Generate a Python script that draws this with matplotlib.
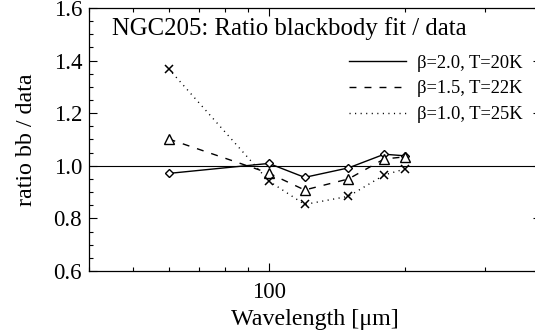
import matplotlib
matplotlib.use("Agg")
import matplotlib.pyplot as plt
from matplotlib.ticker import NullFormatter, FixedLocator, MultipleLocator, FormatStrFormatter

plt.rcParams['font.family'] = ['Liberation Serif', 'DejaVu Serif']
plt.rcParams['lines.scale_dashes'] = False

wavelength = [60, 100, 120, 150, 180, 200]
ratio_b20 = [0.971, 1.009, 0.956, 0.992, 1.044, 1.038]
ratio_b15 = [1.102, 0.972, 0.908, 0.950, 1.026, 1.034]
ratio_b10 = [1.369, 0.942, 0.853, 0.884, 0.965, 0.988]
labels = ['β=2.0, T=20K', 'β=1.5, T=22K', 'β=1.0, T=25K']
title = 'NGC205: Ratio blackbody fit / data'

fig = plt.figure(figsize=(5.35, 3.35), dpi=100)
ax = fig.add_axes([89/535, 64/335, 452/535, 263/335])

lw = 1.0
l1, = ax.plot(wavelength, ratio_b20, color='black', lw=lw, ls='-',
              marker='D', ms=4.5, mfc='white', mec='black', mew=1.0)
l2, = ax.plot(wavelength, ratio_b15, color='black', lw=lw,
              marker='^', ms=6.5, mfc='white', mec='black', mew=1.0)
l2.set_dashes((5.0, 5.8))
l3, = ax.plot(wavelength, ratio_b10, color='black', lw=lw,
              marker='x', ms=6.0, mec='black', mew=1.1)
l3.set_dashes((0.8, 3.2))
ax.axhline(1.0, color='black', lw=0.8, zorder=1)

ax.set_xscale('log')
ax.set_xlim(40, 400)
ax.set_ylim(0.6, 1.6)

ax.xaxis.set_major_locator(FixedLocator([100]))
ax.xaxis.set_major_formatter(FormatStrFormatter('%d'))
ax.xaxis.set_minor_locator(FixedLocator([40, 50, 60, 70, 80, 90, 200, 300, 400]))
ax.xaxis.set_minor_formatter(NullFormatter())
ax.yaxis.set_major_locator(MultipleLocator(0.2))
ax.yaxis.set_major_formatter(FormatStrFormatter('%.1f'))
ax.yaxis.set_minor_locator(MultipleLocator(0.05))

ax.tick_params(which='both', direction='in', top=True, right=True, width=0.8, color='black')
ax.tick_params(which='major', length=6.0)
ax.tick_params(which='minor', length=3.0)
ax.tick_params(axis='x', which='major', labelsize=16.5, pad=8)
ax.tick_params(axis='y', which='major', labelsize=16.5, pad=5)
for s in ax.spines.values():
    s.set_linewidth(0.9)

ax.set_xlabel('Wavelength [μm]', fontsize=17.3)
ax.xaxis.set_label_coords(0.5, -0.143)
ax.set_ylabel('ratio bb / data', fontsize=17.3)
ax.yaxis.set_label_coords(-0.115, 0.5)

ax.text(0.0509, 0.897, title, transform=ax.transAxes, fontsize=17.8,
        ha='left', va='baseline')

h1 = plt.Line2D([], [], color='black', lw=lw, ls='-')
h2 = plt.Line2D([], [], color='black', lw=lw, dashes=(5.0, 5.8))
h3 = plt.Line2D([], [], color='black', lw=lw, dashes=(0.8, 3.2))
ax.legend([h1, h2, h3], labels, loc='upper left', bbox_to_anchor=(0.575, 0.822),
          frameon=False, fontsize=13.3, handlelength=3.1, handletextpad=0.6,
          labelspacing=0.47, borderpad=0, borderaxespad=0)

fig.savefig('out.png', dpi=100)
